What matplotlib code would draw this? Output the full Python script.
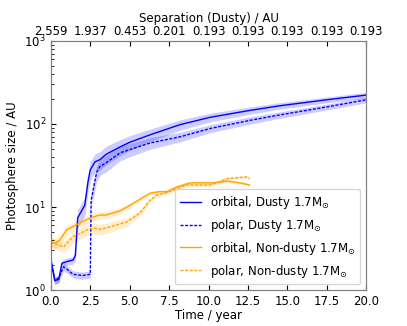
import matplotlib
matplotlib.use('Agg')
import matplotlib.pyplot as plt
import numpy as np

# orbital, dusty
t_od = [0.0, 0.25, 0.5, 0.7, 1.0, 1.4, 1.55, 1.7, 2.15, 2.35, 2.5, 2.8, 3.1, 3.5, 4.4, 5.0, 6.3, 8.2, 10.1, 12.6, 14.5, 17.5, 20.0]
v_od = [2.3, 1.3, 1.35, 2.1, 2.2, 2.3, 2.6, 7.4, 10.5, 20, 28, 35, 37, 43, 53, 60, 74, 98, 120, 145, 165, 195, 222]
e_od = [0.1, 0.1, 0.1, 0.1, 0.1, 0.1, 0.15, 0.25, 0.25, 0.25, 0.25, 0.25, 0.25, 0.25, 0.22, 0.2, 0.17, 0.14, 0.12, 0.1, 0.09, 0.08, 0.08]

# polar, dusty
t_pd = [0.0, 0.25, 0.5, 0.8, 1.0, 1.4, 2.0, 2.5, 2.55, 2.9, 3.1, 3.5, 4.4, 5.0, 6.3, 8.2, 10.1, 12.6, 14.5, 17.5, 20.0]
v_pd = [2.3, 1.3, 1.4, 1.9, 1.8, 1.55, 1.5, 1.55, 12, 26, 30.6, 34, 45, 49, 59, 70, 88, 110, 128, 160, 195]
e_pd = [0.1, 0.1, 0.1, 0.1, 0.1, 0.1, 0.1, 0.1, 0.2, 0.22, 0.22, 0.22, 0.2, 0.18, 0.16, 0.13, 0.11, 0.1, 0.09, 0.08, 0.08]

# orbital, non-dusty
t_on = [0.0, 0.3, 0.57, 1.0, 1.6, 2.5, 3.1, 3.5, 4.4, 5.2, 6.3, 6.9, 7.35, 8.0, 8.8, 10.3, 11.2, 12.0, 12.6]
v_on = [3.7, 3.7, 4.0, 5.3, 6.1, 7.4, 8.0, 8.0, 9.0, 11, 14.7, 15.3, 15.3, 17.5, 19.5, 19.5, 20.5, 19.5, 18.4]
e_on = [0.15, 0.15, 0.15, 0.15, 0.12, 0.12, 0.1, 0.1, 0.08, 0.06, 0.05, 0.05, 0.05, 0.05, 0.04, 0.04, 0.04, 0.04, 0.04]

# polar, non-dusty
t_pn = [0.0, 0.3, 0.8, 1.4, 2.3, 2.7, 3.1, 3.5, 4.8, 5.2, 5.65, 6.3, 6.7, 7.35, 8.6, 10.1, 11.2, 12.4, 12.6]
v_pn = [3.8, 3.6, 3.3, 4.4, 5.3, 5.6, 5.4, 5.6, 6.6, 7.4, 8.5, 12.1, 13.9, 15, 18.4, 18.4, 22, 23, 22]
e_pn = [0.12, 0.12, 0.15, 0.15, 0.15, 0.15, 0.15, 0.15, 0.12, 0.1, 0.08, 0.06, 0.05, 0.05, 0.04, 0.04, 0.04, 0.04, 0.04]

top_ticks = [0, 2.5, 5, 7.5, 10, 12.5, 15, 17.5, 20]
top_labels = ['2.559', '1.937', '0.453', '0.201', '0.193', '0.193', '0.193', '0.193', '0.193']

plt.rcParams['font.size'] = 8.5

fig = plt.figure(figsize=(4.07, 3.26), dpi=100)
ax = fig.add_axes([0.125, 0.11, 0.775, 0.765])

def draw(t, v, e, color, ls, label):
	t = np.array(t)
	v = np.array(v)
	e = np.array(e)
	ax.fill_between(t, v * (1 - e), v * (1 + e), color=color, alpha=0.2, lw=0)
	ax.plot(t, v, color=color, ls=ls, lw=1, label=label)

dash = (0, (2.2, 1.1))
draw(t_od, v_od, e_od, 'blue', '-', r'orbital, Dusty 1.7M$_{\odot}$')
draw(t_pd, v_pd, e_pd, 'blue', dash, r'polar, Dusty 1.7M$_{\odot}$')
draw(t_on, v_on, e_on, 'orange', '-', r'orbital, Non-dusty 1.7M$_{\odot}$')
draw(t_pn, v_pn, e_pn, 'orange', dash, r'polar, Non-dusty 1.7M$_{\odot}$')

ax.set_yscale('log')
ax.set_xlim(0, 20)
ax.set_ylim(1, 1000)
ax.set_xlabel('Time / year', labelpad=1)
ax.set_ylabel('Photosphere size / AU')
ax.tick_params(which='both', direction='in')
for s in ax.spines.values():
	s.set_color('grey')
ax.legend(loc='lower right', fontsize=8.5, handlelength=1.8)

ax2 = ax.twiny()
ax2.set_xlim(0, 20)
ax2.set_xticks(top_ticks)
ax2.set_xticklabels(top_labels)
ax2.tick_params(direction='in', pad=2)
ax2.set_xlabel('Separation (Dusty) / AU', labelpad=2)
for s in ax2.spines.values():
	s.set_color('grey')

plt.savefig('out.png', dpi=100)
